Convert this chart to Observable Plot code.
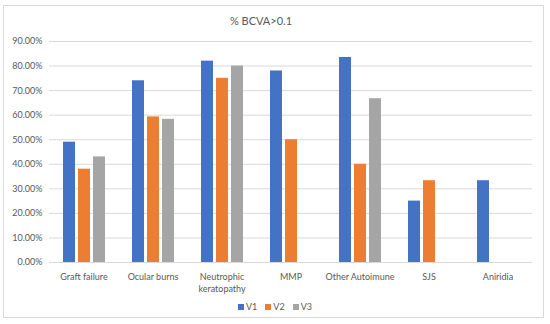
<!DOCTYPE html>
<html>
<head>
<meta charset="utf-8">
<script src="https://cdn.jsdelivr.net/npm/d3@7"></script>
<script src="https://cdn.jsdelivr.net/npm/@observablehq/plot@0.6"></script>
<style>
  html, body { margin: 0; padding: 0; background: #fff; }
  #wrap { position: relative; width: 550px; height: 324px; overflow: hidden; font-family: Lato, "Open Sans", sans-serif; }
  #frame { position: absolute; left: 3px; top: 5px; width: 541px; height: 313px; border: 1px solid #d9d9d9; box-sizing: border-box; }
  #title { position: absolute; top: 14px; left: 161px; width: 200px; text-align: center; font-size: 11px; color: #595959; }
  #chart { position: absolute; left: 0; top: 0; }
  #legend { position: absolute; top: 301px; left: 0; width: 550px; display: flex; justify-content: center; gap: 8px; font-size: 9px; color: #595959; }
  #legend span.item { display: inline-flex; align-items: center; gap: 2px; }
  #legend span.sw { display: inline-block; width: 6px; height: 6px; }
</style>
</head>
<body>
<div id="wrap">
  <div id="frame"></div>
  <div id="chart"></div>
  <div id="title">% BCVA&gt;0.1</div>
  <div id="legend"></div>
</div>
<script>
const categories = ["Graft failure", "Ocular burns", "Neutrophic keratopathy", "MMP", "Other Autoimune", "SJS", "Aniridia"];
const series = ["V1", "V2", "V3"];
const colors = ["#4472C4", "#ED7D31", "#A5A5A5"];
const v1 = [0.49, 0.74, 0.82, 0.78, 0.835, 0.25, 0.333];
const v2 = [0.38, 0.593, 0.75, 0.50, 0.40, 0.333, null];
const v3 = [0.43, 0.583, 0.80, null, 0.667, null, null];
const yTicks = [0, 0.1, 0.2, 0.3, 0.4, 0.5, 0.6, 0.7, 0.8, 0.9];

const values = [v1, v2, v3];
const data = [];
categories.forEach((c, i) => {
  series.forEach((s, j) => {
    const v = values[j][i];
    if (v != null) data.push({category: c, series: s, value: v});
  });
});

const chart = Plot.plot({
  width: 550,
  height: 324,
  marginLeft: 46,
  marginRight: 16,
  marginTop: 41,
  marginBottom: 62,
  style: {fontFamily: "Lato, 'Open Sans', sans-serif", fontSize: "9px", color: "#595959", background: "transparent", overflow: "visible"},
  fx: {domain: categories, padding: 0, label: null},
  x: {domain: series, paddingInner: 0.23, paddingOuter: 0.865, axis: null},
  y: {domain: [0, 0.9], label: null},
  color: {domain: series, range: colors},
  marks: [
    Plot.gridY(yTicks, {stroke: "#d9d9d9", strokeOpacity: 1}),
    Plot.axisY(yTicks, {tickFormat: d3.format(".2%"), tickSize: 0, tickPadding: 7, label: null}),
    Plot.axisFx({anchor: "bottom", tickSize: 0, tickPadding: 9, label: null, lineHeight: 1.3,
                 tickFormat: d => d === "Neutrophic keratopathy" ? "Neutrophic\nkeratopathy" : d}),
    Plot.barY(data, {fx: "category", x: "series", y: "value", fill: "series"})
  ]
});
document.getElementById("chart").appendChild(chart);

const legend = document.getElementById("legend");
series.forEach((s, i) => {
  const item = document.createElement("span");
  item.className = "item";
  const sw = document.createElement("span");
  sw.className = "sw";
  sw.style.background = colors[i];
  item.appendChild(sw);
  item.appendChild(document.createTextNode(s));
  legend.appendChild(item);
});
</script>
</body>
</html>
